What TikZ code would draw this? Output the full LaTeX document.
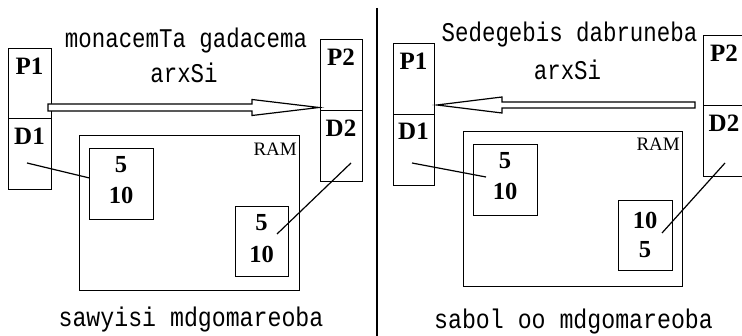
\documentclass[tikz,border=0pt]{standalone}
\usepackage{fontspec}
\setmainfont{Liberation Serif}
\newfontfamily\capfont[FakeStretch=0.83]{Liberation Mono}
\newfontfamily\capfontb[FakeStretch=0.86]{Liberation Mono}
\usetikzlibrary{calc}
\tikzset{
  cell/.style={draw, line width=1.2pt, inner sep=0pt, anchor=north west},
  reg/.style={font=\fontsize{25}{25}\selectfont\bfseries, anchor=base, inner sep=0pt},
  num/.style={font=\fontsize{24.5}{24.5}\selectfont\bfseries, anchor=base, inner sep=0pt},
  ramlbl/.style={font=\fontsize{19}{19}\selectfont, anchor=base east, inner sep=0pt},
  captxt/.style={font=\capfont\fontsize{27}{27}\selectfont, anchor=base, inner sep=0pt},
  captxtb/.style={font=\capfontb\fontsize{27}{27}\selectfont, anchor=base, inner sep=0pt},
  link/.style={line width=1.2pt},
  hollowarrow/.style={draw, line width=1.2pt, line join=miter, fill=white},
}
\newcommand{\cellbox}[5]{% name, x1, y1, x2, y2
  \node[cell, minimum width={(#4-#2)*1pt}, minimum height={(#5-#3)*1pt}] (#1) at (#2,#3) {};}
\begin{document}
\begin{tikzpicture}[x=1pt,y=-1pt]
\useasboundingbox (0,0) rectangle (742,336);
% ---------- left panel ----------
\cellbox{lP1}{8}{48}{51}{118}
\cellbox{lD1}{8}{118}{51}{189}
\cellbox{lP2}{320}{39}{362}{110}
\cellbox{lD2}{320}{110}{362}{181}
\node[reg] (lP1t) at (29.5,74.5) {P1};
\node[reg] (lD1t) at (29.5,144.5) {D1};
\node[reg] (lP2t) at (341,65.5) {P2};
\node[reg] (lD2t) at (341,136.5) {D2};
\cellbox{lRAM}{79}{135}{299}{290}
\node[ramlbl] (lRAMt) at (297,156) {RAM};
\cellbox{lA}{89}{148}{153}{219}
\node[num] (lA1) at (121,173) {5};
\node[num] (lA2) at (121,204) {10};
\cellbox{lB}{235}{206}{288}{276}
\node[num] (lB1) at (261.5,231) {5};
\node[num] (lB2) at (261.5,263) {10};
\coordinate (lD1p) at (27,163);
\coordinate (lAp) at (89.5,178);
\coordinate (lD2p) at (351,163);
\coordinate (lBp) at (277,234);
\draw[link] (lD1p) -- (lAp);
\draw[link] (lD2p) -- (lBp);
\draw[hollowarrow] (48,104) -- (252,104) -- (252,99.5) -- (319,107.5) -- (252,115.5) -- (252,111) -- (48,111) -- cycle;
\node[captxt] (lT1) at (186,48) {monacemTa gadacema};
\node[captxt] (lT2) at (184,83) {arxSi};
\node[captxtb] (lBot) at (191,327) {sawyisi mdgomareoba};
% ---------- divider ----------
\coordinate (divT) at (377,8);
\coordinate (divB) at (377,336);
\draw[line width=1.2pt] (divT) -- (divB);
% ---------- right panel ----------
\cellbox{rP1}{393}{43}{434}{114}
\cellbox{rD1}{393}{114}{434}{185}
\cellbox{rP2}{703}{35}{746}{105}
\cellbox{rD2}{703}{105}{746}{176}
\node[reg] (rP1t) at (413.5,70) {P1};
\node[reg] (rD1t) at (413.5,140) {D1};
\node[reg] (rP2t) at (724,61.5) {P2};
\node[reg] (rD2t) at (724,131.5) {D2};
\cellbox{rRAM}{463}{131}{682}{286}
\node[ramlbl] (rRAMt) at (680,151) {RAM};
\cellbox{rA}{473}{144}{537}{215}
\node[num] (rA1) at (505,169) {5};
\node[num] (rA2) at (505,200) {10};
\cellbox{rB}{618}{200}{672}{270}
\node[num] (rB1) at (645,229) {10};
\node[num] (rB2) at (645,258) {5};
\coordinate (rD1p) at (412,163);
\coordinate (rAp) at (486,177);
\coordinate (rD2p) at (725,163);
\coordinate (rBp) at (662,233);
\draw[link] (rD1p) -- (rAp);
\draw[link] (rD2p) -- (rBp);
\draw[hollowarrow] (695,102) -- (502,102) -- (502,97) -- (437,105) -- (502,113) -- (502,108) -- (695,108) -- cycle;
\node[captxt] (rT1) at (569.5,42) {Sedegebis dabruneba};
\node[captxt] (rT2) at (567.5,80) {arxSi};
\node[captxtb] (rBot) at (573.5,329) {sabol oo mdgomareoba};
\end{tikzpicture}
\end{document}
